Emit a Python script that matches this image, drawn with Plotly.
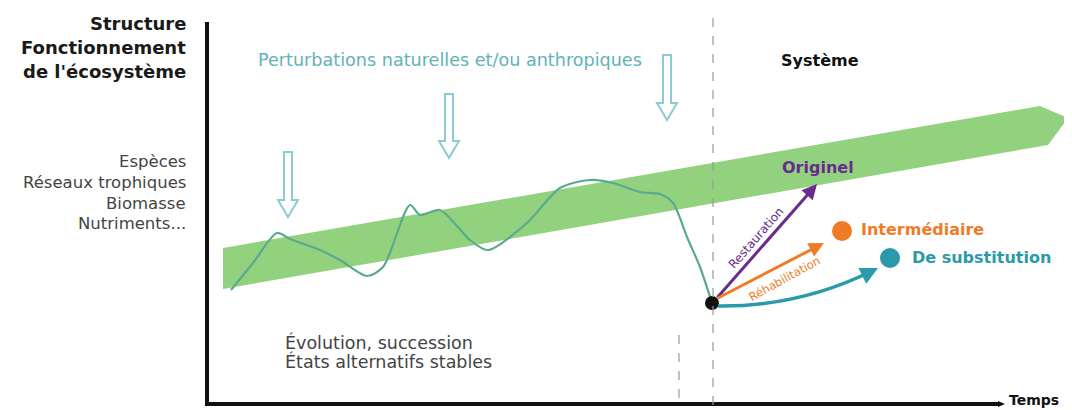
import plotly.graph_objects as go

# ---- Data (diagram units: x = time, y = level, screen-like scale, y downward) ----
curve_t = [231, 253, 277, 290, 320, 340, 367, 383, 410, 420, 440, 457, 470, 488,
           527, 560, 590, 613, 640, 660, 673, 687, 700, 712]
curve_level = [290, 263, 233, 239, 250, 260, 276, 267, 205, 215, 210, 226, 240, 250,
               223, 188, 180, 183, 192, 194, 203, 237, 267, 303]

band_t = [223, 1040, 1068, 1048, 223]
band_level = [248, 106, 118, 145, 289]

disturb_t = [288, 449, 667]
disturb_top = [152, 94, 55]
disturb_tip = [217, 158, 120]

collapse_point = (712, 303)
outcome_names = ["Originel", "Intermédiaire", "De substitution"]
outcome_colors = ["#6a2c8c", "#f07b27", "#2a9aab"]
outcome_ends = [(817, 184), (824, 243), (878, 268)]
outcome_dots = [None, (842, 231), (890, 258)]
outcome_label_pos = [(780, 167), (859, 229), (910, 257)]

title_lines = ["Structure", "Fonctionnement", "de l'écosystème"]
title_y = [23, 47, 71]
left_terms = ["Espèces", "Réseaux trophiques", "Biomasse", "Nutriments..."]
left_terms_y = [161, 182, 203, 223]
bottom_lines = ["Évolution, succession", "États alternatifs stables"]
bottom_y = [342, 361]

# body margin of the page (8px) is compensated via the axis ranges
OFF = 8
W, H = 1072, 410

fig = go.Figure()

fig.add_trace(go.Scatter(x=band_t, y=band_level, fill="toself", mode="lines",
                         line=dict(width=0), fillcolor="#92d27f", hoverinfo="skip"))
fig.add_trace(go.Scatter(x=curve_t, y=curve_level, mode="lines",
                         line=dict(color="#5aab8e", width=2.2, shape="spline", smoothing=0.8),
                         hoverinfo="skip"))

shapes = []
shapes.append(dict(type="line", x0=207, x1=207, y0=22, y1=405, line=dict(color="#111", width=4)))
shapes.append(dict(type="line", x0=205, x1=1000, y0=404, y1=404, line=dict(color="#111", width=4)))
shapes.append(dict(type="path", path="M 998,401 L 1005,404 L 998,407 Z", fillcolor="#111", line=dict(width=0)))
shapes.append(dict(type="line", x0=713, x1=713, y0=18, y1=405, line=dict(color="#999", width=1.2, dash="dash")))
shapes.append(dict(type="line", x0=679, x1=679, y0=335, y1=405, line=dict(color="#999", width=1.2, dash="dash")))

for t, top, tip in zip(disturb_t, disturb_top, disturb_tip):
    hs, hw, sw = tip - 17, 10, 4
    p = (f"M {t-sw},{top} L {t+sw},{top} L {t+sw},{hs} L {t+hw},{hs} L {t},{tip} "
         f"L {t-hw},{hs} L {t-sw},{hs} Z")
    shapes.append(dict(type="path", path=p, fillcolor="white", line=dict(color="#8ccbd4", width=2)))

cx, cy = collapse_point
ex, ey = outcome_ends[2]
shapes.append(dict(type="path", path=f"M {cx+6},{cy+3} Q {800},{cy+4} {ex-4},{ey+2}",
                   line=dict(color=outcome_colors[2], width=3.5)))

for d, c in zip(outcome_dots, outcome_colors):
    if d:
        shapes.append(dict(type="circle", x0=d[0]-10, x1=d[0]+10, y0=d[1]-10, y1=d[1]+10,
                           fillcolor=c, line=dict(width=0)))

fig.add_trace(go.Scatter(x=[cx], y=[cy], mode="markers",
                         marker=dict(color="#111", size=14), hoverinfo="skip"))

ann = []
for (ex_, ey_), c in zip(outcome_ends[:2], outcome_colors[:2]):
    ann.append(dict(x=ex_, y=ey_, ax=cx + 4, ay=cy - 4, xref="x", yref="y", axref="x", ayref="y",
                    showarrow=True, arrowhead=2, arrowsize=1, arrowwidth=3, arrowcolor=c, text=""))
ann.append(dict(x=ex, y=ey, ax=ex - 12, ay=ey + 6, xref="x", yref="y", axref="x", ayref="y",
                showarrow=True, arrowhead=2, arrowsize=1, arrowwidth=3.5, arrowcolor=outcome_colors[2], text=""))

BF = "DejaVu Sans"
for txt, y in zip(title_lines, title_y):
    ann.append(dict(x=188, y=y, xanchor="right", yanchor="middle", showarrow=False,
                    text=f"<b>{txt}</b>", font=dict(family=BF, size=18, color="#1a1a1a")))
for txt, y in zip(left_terms, left_terms_y):
    ann.append(dict(x=188, y=y, xanchor="right", yanchor="middle", showarrow=False,
                    text=txt, font=dict(family=BF, size=16.5, color="#444")))
ann.append(dict(x=256, y=60, xanchor="left", yanchor="middle", showarrow=False,
                text="Perturbations naturelles et/ou anthropiques",
                font=dict(family=BF, size=17.6, color="#5fb3b9")))
ann.append(dict(x=779, y=60, xanchor="left", yanchor="middle", showarrow=False,
                text="<b>Système</b>", font=dict(family=BF, size=16, color="#111")))
for name, (lx, ly), c in zip(outcome_names, outcome_label_pos, outcome_colors):
    ann.append(dict(x=lx, y=ly, xanchor="left", yanchor="middle", showarrow=False,
                    text=f"<b>{name}</b>", font=dict(family=BF, size=16, color=c)))
ann.append(dict(x=756, y=238, showarrow=False, textangle=-49, text="Restauration",
                font=dict(family=BF, size=12, color=outcome_colors[0])))
ann.append(dict(x=784, y=279, showarrow=False, textangle=-29, text="Réhabilitation",
                font=dict(family=BF, size=11.5, color=outcome_colors[1])))
for txt, y in zip(bottom_lines, bottom_y):
    ann.append(dict(x=283, y=y, xanchor="left", yanchor="middle", showarrow=False,
                    text=txt, font=dict(family=BF, size=17.5, color="#444")))
ann.append(dict(x=1007, y=400, xanchor="left", yanchor="middle", showarrow=False,
                text="<b>Temps</b>", font=dict(family=BF, size=14, color="#111")))

fig.update_layout(
    width=W - OFF, height=H - OFF, margin=dict(l=0, r=0, t=0, b=0),
    paper_bgcolor="white", plot_bgcolor="white", showlegend=False,
    xaxis=dict(range=[OFF, W], visible=False, fixedrange=True),
    yaxis=dict(range=[H, OFF], visible=False, fixedrange=True),
    shapes=shapes, annotations=ann,
)
fig.write_html("out.html")
